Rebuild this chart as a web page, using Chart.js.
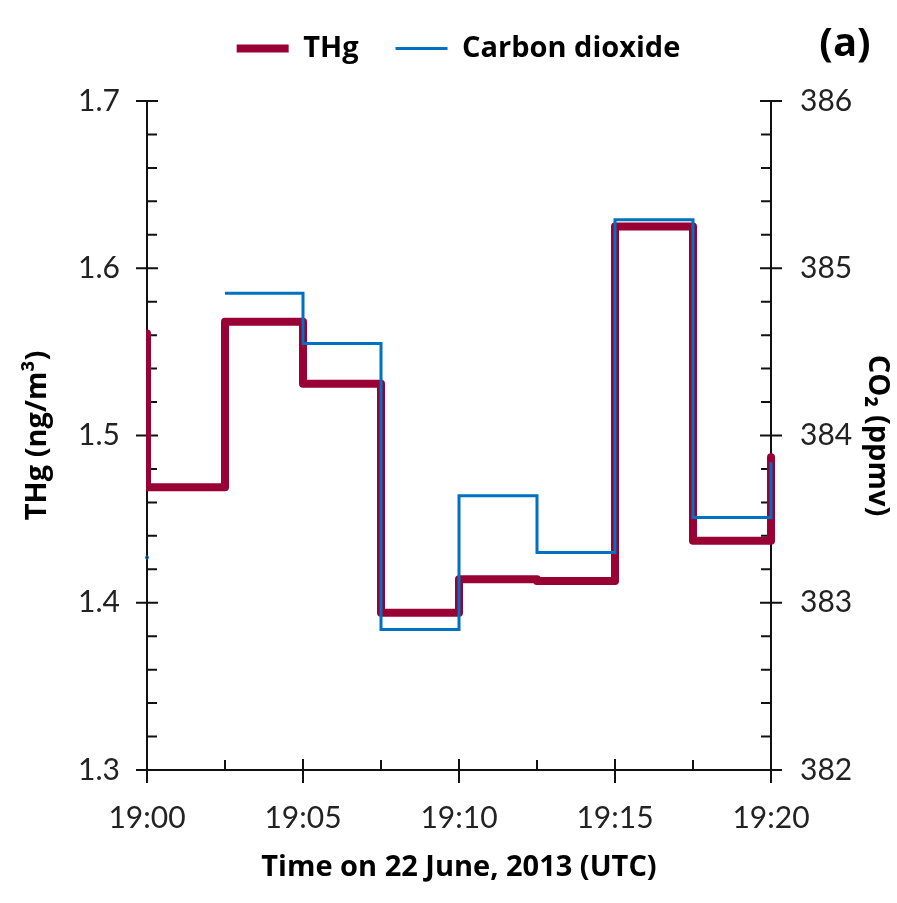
<!DOCTYPE html>
<html>
<head>
<meta charset="utf-8">
<script src="https://cdn.jsdelivr.net/npm/chart.js@4/dist/chart.umd.min.js"></script>
<style>
  html, body { margin: 0; padding: 0; background: #fff; }
  canvas { display: block; }
</style>
</head>
<body>
<canvas id="myChart" width="897" height="903"></canvas>
<script>
// step series, value holds from its time until the next time
var thgTimes = ['18:57:30', '19:00', '19:02:30', '19:05', '19:07:30', '19:10', '19:12:30', '19:15', '19:17:30', '19:20'];
var thgValues = [1.561, 1.469, 1.568, 1.531, 1.394, 1.414, 1.413, 1.625, 1.437, 1.487];

var co2Times = ['19:00', '19:01:15', '19:02:30', '19:05', '19:07:30', '19:10', '19:12:30', '19:15', '19:17:30', '19:20'];
var co2Values = [383.27, null, 384.85, 384.55, 382.84, 383.64, 383.30, 385.29, 383.51, 383.84];

var xTicks = ['19:00', '19:05', '19:10', '19:15', '19:20'];

var FONT = 'Lato, "Open Sans", sans-serif';
var BOLD = '"Open Sans", Lato, sans-serif';

function toMin(t) {
    var p = t.split(':');
    return Number(p[0]) * 60 + Number(p[1]) + (p[2] ? Number(p[2]) / 60 : 0) - 1140;
}

function pairs(times, vals) {
    var out = [];
    for (var i = 0; i < times.length; i++) {
        out.push({x: toMin(times[i]), y: vals[i]});
    }
    return out;
}

// tick marks crossing the axes, minor ones inside
var tickMarks = {
    id: 'tickMarks',
    afterLayout: function(chart) {
        // legend sits higher above the plot than the layout puts it
        chart.legend.top -= 28;
        chart.legend.bottom -= 28;
    },
    beforeDatasetsDraw: function(chart) {
        var ctx = chart.ctx;
        var x = chart.scales.x, yl = chart.scales.y, yr = chart.scales.y2;
        var area = chart.chartArea;
        ctx.save();
        ctx.strokeStyle = '#111';
        ctx.lineWidth = 2;
        ctx.beginPath();
        var v, p;
        for (v = 0; v <= 20.001; v += 2.5) {
            p = x.getPixelForValue(v);
            var major = Math.abs(v % 5) < 0.01;
            ctx.moveTo(p, area.bottom - (major ? 11 : 10));
            ctx.lineTo(p, area.bottom + (major ? 13 : 0));
        }
        for (var i = 0; i <= 20; i++) {
            v = 1.3 + i * 0.02;
            p = yl.getPixelForValue(v);
            ctx.moveTo(area.left - (i % 5 == 0 ? 11 : 0), p);
            ctx.lineTo(area.left + (i % 5 == 0 ? 11 : 10), p);
            v = 382 + i * 0.2;
            p = yr.getPixelForValue(v);
            ctx.moveTo(area.right - (i % 5 == 0 ? 11 : 10), p);
            ctx.lineTo(area.right + (i % 5 == 0 ? 11 : 0), p);
        }
        ctx.stroke();
        ctx.restore();
    },
    afterDraw: function(chart) {
        var ctx = chart.ctx;
        ctx.save();
        ctx.fillStyle = '#000';
        ctx.font = 'bold 40px ' + BOLD;
        ctx.textAlign = 'center';
        ctx.textBaseline = 'middle';
        ctx.fillText('(a)', 845, 45);
        ctx.restore();
    }
};

var ctx = document.getElementById('myChart');
var myChart = new Chart(ctx, {
    type: 'line',
    data: {
        datasets: [{
            label: 'THg',
            data: pairs(thgTimes, thgValues),
            yAxisID: 'y',
            order: 1,
            borderColor: '#990033',
            backgroundColor: '#990033',
            borderWidth: 8,
            borderCapStyle: 'round',
            borderJoinStyle: 'round',
            stepped: 'before',
            pointRadius: 0,
            clip: {left: 1, right: 4, top: 10, bottom: 10}
        }, {
            label: 'Carbon dioxide',
            data: pairs(co2Times, co2Values),
            yAxisID: 'y2',
            order: 0,
            borderColor: '#0070C0',
            backgroundColor: '#0070C0',
            borderWidth: 3,
            stepped: 'before',
            spanGaps: false,
            pointRadius: [0.5, 0, 0, 0, 0, 0, 0, 0, 0, 0],
            pointBorderWidth: 3,
            clip: {left: 2, right: 2, top: 10, bottom: 10}
        }]
    },
    options: {
        responsive: false,
        animation: false,
        devicePixelRatio: 1,
        layout: {padding: {left: 20, right: 0, top: 3, bottom: 0}},
        plugins: {
            tooltip: {enabled: false},
            legend: {
                position: 'top',
                labels: {
                    usePointStyle: true,
                    pointStyle: 'line',
                    pointStyleWidth: 52,
                    boxHeight: 29,
                    padding: 37,
                    color: '#000',
                    font: {family: BOLD, size: 29, weight: 'bold'},
                    sort: function(a, b) { return a.datasetIndex - b.datasetIndex; }
                }
            }
        },
        scales: {
            x: {
                type: 'linear',
                min: 0,
                max: 20,
                afterFit: function(s) { s.height = 133; },
                grid: {display: true, drawOnChartArea: false, drawTicks: false},
                border: {display: true, color: '#111', width: 2},
                ticks: {
                    stepSize: 5,
                    padding: 30,
                    color: '#222',
                    font: {family: FONT, size: 30},
                    callback: function(v) {
                        return xTicks[Math.round(v / 5)];
                    }
                },
                title: {
                    display: true,
                    text: 'Time on 22 June, 2013 (UTC)',
                    color: '#000',
                    font: {family: BOLD, size: 29, weight: 'bold'},
                    padding: {top: 0, bottom: 18}
                }
            },
            y: {
                position: 'left',
                min: 1.3,
                max: 1.7,
                afterFit: function(s) { s.width = 127; s.paddingTop = 101; },
                grid: {display: true, drawOnChartArea: false, drawTicks: false},
                border: {display: true, color: '#111', width: 2},
                ticks: {
                    stepSize: 0.1,
                    padding: 27,
                    color: '#222',
                    font: {family: FONT, size: 30},
                    callback: function(v) { return v.toFixed(1); }
                },
                title: {
                    display: true,
                    text: 'THg (ng/m³)',
                    color: '#000',
                    font: {family: BOLD, size: 29, weight: 'bold'},
                    padding: {top: 0, bottom: 0}
                }
            },
            y2: {
                position: 'right',
                min: 382,
                max: 386,
                afterFit: function(s) { s.width = 126; },
                grid: {display: true, drawOnChartArea: false, drawTicks: false},
                border: {display: true, color: '#111', width: 2},
                ticks: {
                    stepSize: 1,
                    padding: 29,
                    color: '#222',
                    font: {family: FONT, size: 30}
                },
                title: {
                    display: true,
                    text: 'CO₂ (ppmv)',
                    color: '#000',
                    font: {family: BOLD, size: 29, weight: 'bold'},
                    padding: {top: 2, bottom: 0}
                }
            }
        }
    },
    plugins: [tickMarks]
});
</script>
</body>
</html>
